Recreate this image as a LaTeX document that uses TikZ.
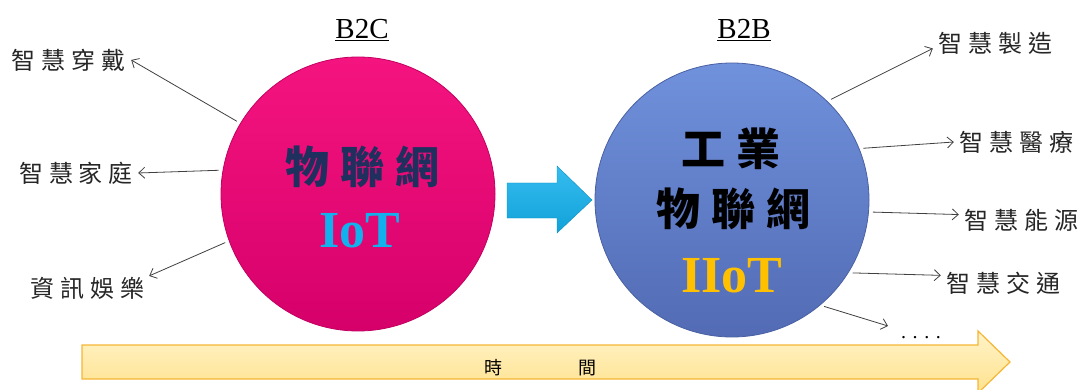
\documentclass[tikz,border=0pt]{standalone}
\usepackage{fontspec}
\setmainfont{Liberation Serif}
\newfontfamily\cjk[LetterSpace=25]{Noto Sans CJK TC}
\usetikzlibrary{arrows.meta}

\definecolor{rosa}{HTML}{F5147F}
\definecolor{rosaosc}{HTML}{D6006B}
\definecolor{azul}{HTML}{7091DC}
\definecolor{azulosc}{HTML}{526BB4}
\definecolor{azulnoche}{HTML}{1F2F5E}
\definecolor{cian}{HTML}{12B0EC}
\definecolor{oro}{HTML}{FFC000}
\definecolor{crema}{HTML}{FFF3C8}
\definecolor{amarillo}{HTML}{FFE28E}
\definecolor{naranja}{HTML}{F5B635}

\begin{document}
\begin{tikzpicture}[x=1pt, y=-1pt,
		>={Straight Barb[length=6pt,width=11pt]},
		flecha/.style={->, line width=.8pt, black!75, shorten <=4pt},
		etiq/.style={font=\cjk\fontsize{24}{28}\selectfont, text=black!85, inner sep=5pt},
		bola/.style={circle, minimum size=274pt, inner sep=0pt, line width=.8pt},
		titulo/.style={font=\cjk\bfseries\fontsize{44}{48}\selectfont, inner sep=0pt},
		sigla/.style={font=\bfseries\fontsize{52}{56}\selectfont, inner sep=0pt, anchor=base}]
		\useasboundingbox (0,0) rectangle (1081,390);
		
		% Tiempo
		\draw[line width=1.2pt, draw=naranja, top color=crema, bottom color=amarillo]
			(82,345) -- (978,345) -- (978,331) -- (1010,362) -- (978,393) -- (978,379) -- (82,379) -- cycle;
		\node[font=\cjk\fontsize{18}{20}\selectfont] (tiempo) at (540,368) {時\hspace{76pt}間};
		
		% Flecha central
		\draw[draw=cian!80!black, top color=cian!85!white, bottom color=cian!92!black]
			(507,183) -- (557,183) -- (557,166) -- (592,200) -- (557,233) -- (557,218) -- (507,218) -- cycle;
		
		% B2C
		\node[bola, draw=rosaosc!90!black, top color=rosa, bottom color=rosaosc] (iot) at (358,194) {};
		\node[font=\fontsize{29}{32}\selectfont, anchor=base] (btoc) at (362,39) {\underline{B2C}};
		\node[titulo, text=azulnoche] (iotzh) at (362,167) {物聯網};
		\node[sigla, text=cian] (iotsig) at (360,247) {IoT};
		
		% B2B
		\node[bola, draw=azulosc!90!black, top color=azul, bottom color=azulosc] (iiot) at (732,200) {};
		\node[font=\fontsize{29}{32}\selectfont, anchor=base] (btob) at (744,39) {\underline{B2B}};
		\node[titulo] (ind) at (731,149) {工業};
		\node[titulo] (iiotzh) at (733,209) {物聯網};
		\node[sigla, text=oro] (iiotsig) at (732,292) {IIoT};
		
		% Aplicaciones izq
		\node[etiq] (vestible) at (69,60) {智慧穿戴};
		\node[etiq] (hogar) at (76,173) {智慧家庭};
		\node[etiq] (ocio) at (87,288) {資訊娛樂};
		\draw[flecha] (iot.149) -- (vestible.east);
		\draw[flecha] (iot.170) -- (hogar.east);
		\draw[flecha] (iot.200) -- (ocio.11);
		
		% Aplicaciones der
		\node[etiq] (manuf) at (995,43) {智慧製造};
		\node[etiq] (salud) at (1016,142) {智慧醫療};
		\node[etiq] (energia) at (1021,220) {智慧能源};
		\node[etiq] (trafico) at (1003,283) {智慧交通};
		\node[font=\fontsize{20}{22}\selectfont] (etc) at (921,338) {. . . .};
		\coordinate (masfin) at (888,326);
		\draw[flecha] (iiot.46) -- (manuf.185);
		\draw[flecha] (iiot.22) -- (salud.west);
		\draw[flecha] (iiot.-5) -- (energia.175);
		\draw[flecha] (iiot.-32) -- (trafico.173);
		\draw[flecha] (iiot.-50) -- (masfin);
	\end{tikzpicture}
\end{document}
